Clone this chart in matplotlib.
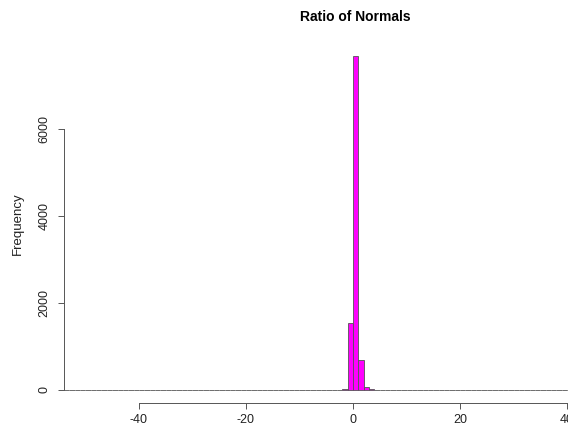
import numpy as np
import matplotlib
matplotlib.use("Agg")
import matplotlib.pyplot as plt

plt.rcParams['font.family'] = ['Liberation Sans', 'DejaVu Sans']

# histogram of the ratio of two normals, unit-width bins
bin_start, bin_stop = -54, 54
nz_bins = [-51, -30, -17, -12, -9, -7, -6, -5, -4, -3, -2, -1, 0, 1, 2, 3, 4, 5, 6, 7, 9, 12, 15, 22, 38]
nz_counts = [1, 1, 1, 1, 2, 2, 3, 4, 6, 9, 15, 1533, 7675, 690, 62, 18, 9, 6, 4, 3, 2, 1, 1, 1, 1]

x_ticks = [-40, -20, 0, 20, 40]
y_ticks = [0, 2000, 4000, 6000]

lefts = np.arange(bin_start, bin_stop)
counts = np.zeros(len(lefts))
for b, c in zip(nz_bins, nz_counts):
    counts[b - bin_start] = c

fig = plt.figure(figsize=(5.68, 4.32), dpi=100)
# plot region runs past the right edge, as in the cropped original
ax = fig.add_axes([64 / 568, 29 / 432, 578 / 568, 359 / 432])

ax.bar(lefts, counts, width=1, align='edge', color='#FF00FF',
       edgecolor='#555555', linewidth=0.6)

ax.set_xlim(-54, 54)
ax.set_ylim(-299, 7954)

for s in ['top', 'right']:
    ax.spines[s].set_visible(False)
ax.spines['bottom'].set_bounds(-40, 40)
ax.spines['left'].set_bounds(0, 6000)
for s in ['bottom', 'left']:
    ax.spines[s].set_color('#555555')
    ax.spines[s].set_linewidth(0.7)

ax.set_xticks(x_ticks)
ax.set_xticklabels([str(t) for t in x_ticks])
ax.set_yticks(y_ticks)
ax.set_yticklabels([str(t) for t in y_ticks], rotation=90, va='center')
ax.tick_params(axis='x', length=4.5, width=0.7, color='#555555', pad=3.5, labelsize=9, labelcolor='#222222')
ax.tick_params(axis='y', length=4.5, width=0.7, color='#555555', pad=5, labelsize=9, labelcolor='#222222')

fig.text(18 / 568, 1 - 224 / 432, 'Frequency', rotation=90, ha='center', va='center',
         fontsize=9.5, color='#222222')
fig.text(355 / 568, 1 - 17 / 432, 'Ratio of Normals', ha='center', va='center',
         fontsize=10, fontweight='bold')

fig.savefig('out.png', dpi=100)
